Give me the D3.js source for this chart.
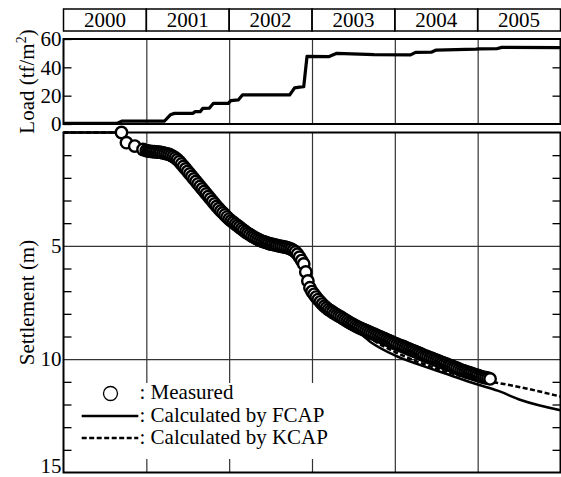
<!DOCTYPE html>
<html><head><meta charset="utf-8">
<script src="https://cdn.jsdelivr.net/npm/d3@7"></script>
<style>body{margin:0;background:#fff}</style>
</head><body><svg id="c" width="561" height="477"></svg>
<script>
const years = [2000, 2001, 2002, 2003, 2004, 2005];
const loadTicks = [0, 20, 40, 60];
const loadSideTicks = [20, 40];
const settleLabelTicks = [5, 10, 15];
const settleMinorTicks = [1, 2, 3, 4, 6, 7, 8, 9, 11, 12, 13, 14];
const settleGrid = [5, 10];
const legendLabels = [": Measured", ": Calculated by FCAP", ": Calculated by KCAP"];

// Load (tf/m2) vs year
const loadData = [
  [2000.00, 0.5], [2000.65, 0.5], [2000.71, 2.1], [2001.22, 2.1], [2001.29, 6.5], [2001.34, 7.5],
  [2001.56, 7.5], [2001.59, 8.7], [2001.65, 8.7], [2001.68, 11.0], [2001.76, 11.1], [2001.81, 14.6],
  [2001.99, 14.6], [2002.02, 16.5], [2002.11, 17.0], [2002.16, 20.5], [2002.73, 20.5], [2002.79, 25.5],
  [2002.85, 26.0], [2002.90, 26.3], [2002.94, 47.8], [2003.20, 47.5], [2003.30, 49.9], [2003.75, 49.0],
  [2004.19, 48.8], [2004.25, 50.6], [2004.44, 50.7], [2004.50, 52.2], [2004.98, 52.8], [2005.02, 53.0],
  [2005.23, 53.1], [2005.29, 54.1], [2006.00, 53.9]
];

// Measured settlement (m)
const measured = [
  [2000.70, 0.00], [2000.76, 0.45], [2000.86, 0.60], [2000.96, 0.75],
  [2001.000, 0.80], [2001.025, 0.82], [2001.050, 0.83], [2001.075, 0.84], [2001.100, 0.85], [2001.125, 0.86],
  [2001.150, 0.87], [2001.175, 0.88], [2001.200, 0.90], [2001.225, 0.92], [2001.250, 0.94], [2001.275, 0.97],
  [2001.300, 1.01], [2001.325, 1.06], [2001.350, 1.12], [2001.375, 1.20], [2001.400, 1.29], [2001.425, 1.39],
  [2001.450, 1.50], [2001.475, 1.61], [2001.500, 1.72], [2001.525, 1.83], [2001.550, 1.94], [2001.575, 2.05],
  [2001.600, 2.16], [2001.625, 2.27], [2001.650, 2.38], [2001.675, 2.49], [2001.700, 2.60], [2001.725, 2.71],
  [2001.750, 2.82], [2001.775, 2.93], [2001.800, 3.04], [2001.825, 3.15], [2001.850, 3.26], [2001.875, 3.36],
  [2001.900, 3.46], [2001.925, 3.55], [2001.950, 3.64], [2001.975, 3.73], [2002.000, 3.82], [2002.025, 3.90],
  [2002.050, 3.97], [2002.075, 4.04], [2002.100, 4.11], [2002.125, 4.18], [2002.150, 4.25], [2002.175, 4.32],
  [2002.200, 4.39], [2002.225, 4.45], [2002.250, 4.51], [2002.275, 4.57], [2002.300, 4.62], [2002.325, 4.67],
  [2002.350, 4.72], [2002.375, 4.76], [2002.400, 4.80], [2002.425, 4.83], [2002.450, 4.86], [2002.475, 4.89],
  [2002.500, 4.92], [2002.525, 4.94], [2002.550, 4.96], [2002.575, 4.98], [2002.600, 5.00], [2002.625, 5.02],
  [2002.650, 5.04], [2002.675, 5.06], [2002.700, 5.08], [2002.725, 5.11], [2002.750, 5.15], [2002.775, 5.20],
  [2002.800, 5.27], [2002.825, 5.37], [2002.850, 5.50], [2002.875, 5.65], [2002.900, 5.80], [2002.925, 6.15],
  [2002.950, 6.55], [2002.975, 6.85], [2003.000, 7.02], [2003.025, 7.14], [2003.050, 7.26], [2003.075, 7.37],
  [2003.100, 7.47], [2003.125, 7.57], [2003.150, 7.66], [2003.175, 7.74], [2003.200, 7.81], [2003.225, 7.87],
  [2003.250, 7.93], [2003.275, 7.99], [2003.300, 8.05], [2003.325, 8.10], [2003.350, 8.15], [2003.375, 8.21],
  [2003.400, 8.27], [2003.425, 8.32], [2003.450, 8.38], [2003.475, 8.43], [2003.500, 8.48], [2003.525, 8.53],
  [2003.550, 8.58], [2003.575, 8.62], [2003.600, 8.66], [2003.625, 8.70], [2003.650, 8.74], [2003.675, 8.78],
  [2003.700, 8.82], [2003.725, 8.86], [2003.750, 8.90], [2003.775, 8.94], [2003.800, 8.98], [2003.825, 9.02],
  [2003.850, 9.06], [2003.875, 9.10], [2003.900, 9.14], [2003.925, 9.18], [2003.950, 9.22], [2003.975, 9.26],
  [2004.000, 9.30], [2004.025, 9.34], [2004.050, 9.38], [2004.075, 9.41], [2004.100, 9.44], [2004.125, 9.48],
  [2004.150, 9.52], [2004.175, 9.56], [2004.200, 9.60], [2004.225, 9.63], [2004.250, 9.67], [2004.275, 9.71],
  [2004.300, 9.75], [2004.325, 9.79], [2004.350, 9.83], [2004.375, 9.87], [2004.400, 9.90], [2004.425, 9.94],
  [2004.450, 9.97], [2004.475, 10.01], [2004.500, 10.04], [2004.525, 10.08], [2004.550, 10.12], [2004.575, 10.15],
  [2004.600, 10.19], [2004.625, 10.22], [2004.650, 10.26], [2004.675, 10.29], [2004.700, 10.33], [2004.725, 10.36],
  [2004.750, 10.40], [2004.775, 10.44], [2004.800, 10.48], [2004.825, 10.51], [2004.850, 10.54], [2004.875, 10.57],
  [2004.900, 10.60], [2004.925, 10.63], [2004.950, 10.66], [2004.975, 10.69], [2005.000, 10.72], [2005.025, 10.75],
  [2005.050, 10.78], [2005.075, 10.80], [2005.100, 10.82], [2005.125, 10.84], [2005.150, 10.87]
];

// Calculated by FCAP (m)
const fcap = [
  [2000.00, 0.0], [2000.65, 0.0], [2000.75, 0.35], [2000.90, 0.65], [2001.05, 0.82], [2001.25, 0.95],
  [2001.40, 1.30], [2001.60, 2.20], [2001.80, 3.10], [2002.00, 3.85], [2002.20, 4.42], [2002.40, 4.82],
  [2002.60, 5.03], [2002.75, 5.20], [2002.85, 5.55], [2002.92, 6.10], [2003.00, 6.95], [2003.15, 7.72],
  [2003.35, 8.28], [2003.55, 8.78], [2003.71, 9.25], [2004.00, 9.83], [2004.30, 10.25], [2004.60, 10.62],
  [2005.00, 11.12], [2005.24, 11.39], [2005.52, 11.80], [2006.00, 12.25]
];

// Calculated by KCAP (m)
const kcap = [
  [2000.00, 0.0], [2000.65, 0.0], [2000.75, 0.35], [2000.90, 0.65], [2001.05, 0.82], [2001.25, 0.95],
  [2001.40, 1.30], [2001.60, 2.20], [2001.80, 3.10], [2002.00, 3.85], [2002.20, 4.42], [2002.40, 4.82],
  [2002.60, 5.03], [2002.75, 5.20], [2002.85, 5.55], [2002.92, 6.10], [2003.00, 6.95], [2003.15, 7.72],
  [2003.35, 8.22], [2003.55, 8.68], [2003.71, 9.10], [2004.00, 9.68], [2004.30, 10.15], [2004.60, 10.52],
  [2005.00, 10.92], [2005.16, 11.00], [2005.52, 11.24], [2006.00, 11.65]
];

const FONT = "Liberation Serif";
const svg = d3.select("#c");
const x = d3.scaleLinear().domain([2000, 2006]).range([63.5, 560.5]);
const yL = d3.scaleLinear().domain([0, 60]).range([124, 39]);
const yS = d3.scaleLinear().domain([0, 15]).range([132.5, 472.5]);
const [x0, x1] = x.range();

// Header year boxes
const hdr = svg.append("g");
hdr.selectAll("rect").data(years).join("rect")
  .attr("x", d => x(d)).attr("y", 9).attr("width", d => x(d + 1) - x(d)).attr("height", 22)
  .attr("fill", "none").attr("stroke", "#000").attr("stroke-width", 1.5);
hdr.selectAll("text").data(years).join("text")
  .attr("x", d => (x(d) + x(d + 1)) / 2).attr("y", 27).attr("text-anchor", "middle")
  .style("font-family", FONT).style("font-size", "21px").text(d => d);

function styleAxis(g) {
  g.select(".domain").remove();
  g.selectAll("line").attr("stroke", "#000").attr("stroke-width", 1.3);
  g.selectAll("text").attr("fill", "#000").style("font-family", FONT).style("font-size", "21px");
}

// ---------- Load panel ----------
const gridYears = years.slice(1);
svg.append("g").attr("transform", `translate(0,${yL(0)})`)
  .call(d3.axisBottom(x).tickValues(gridYears).tickSize(-(yL(0) - yL(60))).tickFormat(""))
  .call(g => { styleAxis(g); g.selectAll("line").attr("stroke", "#333").attr("stroke-width", 1.2); });

svg.append("g").attr("transform", `translate(${x0},0)`)
  .call(d3.axisLeft(yL).tickValues(loadTicks).tickSize(-8).tickPadding(2))
  .call(styleAxis);
svg.append("g").attr("transform", `translate(${x1},0)`)
  .call(d3.axisRight(yL).tickValues(loadSideTicks).tickSize(-8).tickFormat(""))
  .call(styleAxis);

svg.append("path").datum(loadData)
  .attr("d", d3.line().x(d => x(d[0])).y(d => yL(d[1])))
  .attr("fill", "none").attr("stroke", "#000").attr("stroke-width", 3.2).attr("stroke-linejoin", "round");

svg.append("rect").attr("x", x0).attr("y", yL(60)).attr("width", x1 - x0).attr("height", yL(0) - yL(60))
  .attr("fill", "none").attr("stroke", "#000").attr("stroke-width", 2);

// ---------- Settlement panel ----------
svg.append("g").attr("transform", `translate(0,${yS(15)})`)
  .call(d3.axisBottom(x).tickValues(gridYears).tickSize(-(yS(15) - yS(0))).tickFormat(""))
  .call(g => { styleAxis(g); g.selectAll("line").attr("stroke", "#333").attr("stroke-width", 1.2); });
svg.append("g").attr("transform", `translate(${x0},0)`)
  .call(d3.axisLeft(yS).tickValues(settleGrid).tickSize(-(x1 - x0)).tickFormat(""))
  .call(g => { styleAxis(g); g.selectAll("line").attr("stroke", "#333").attr("stroke-width", 1.2); });

svg.append("g").attr("transform", `translate(${x0},0)`)
  .call(d3.axisLeft(yS).tickValues(settleMinorTicks).tickSize(-8).tickFormat(""))
  .call(styleAxis);
svg.append("g").attr("transform", `translate(${x0},0)`)
  .call(d3.axisLeft(yS).tickValues(settleLabelTicks).tickSize(0).tickPadding(2))
  .call(styleAxis)
  .call(g => g.selectAll("text").filter(d => d === 15).attr("dy", "-0.02em"));
svg.append("g").attr("transform", `translate(${x1},0)`)
  .call(d3.axisRight(yS).tickValues(settleMinorTicks).tickSize(-8).tickFormat(""))
  .call(styleAxis);

const sLine = d3.line().x(d => x(d[0])).y(d => yS(d[1])).curve(d3.curveMonotoneX);
svg.append("path").datum(fcap).attr("d", sLine)
  .attr("fill", "none").attr("stroke", "#000").attr("stroke-width", 2.5);
svg.append("path").datum(kcap).attr("d", sLine)
  .attr("fill", "none").attr("stroke", "#000").attr("stroke-width", 2.5).attr("stroke-dasharray", "5,2.5");

svg.append("rect").attr("x", x0).attr("y", yS(0)).attr("width", x1 - x0).attr("height", yS(15) - yS(0))
  .attr("fill", "none").attr("stroke", "#000").attr("stroke-width", 2);

svg.append("g").selectAll("circle").data(measured).join("circle")
  .attr("cx", d => x(d[0])).attr("cy", d => yS(d[1])).attr("r", 5.7)
  .attr("fill", "#fff").attr("stroke", "#000").attr("stroke-width", 2.4);

// ---------- Axis titles ----------
const tL = svg.append("text").attr("transform", `translate(34,${(yL(0) + yL(60)) / 2}) rotate(-90)`)
  .attr("text-anchor", "middle").style("font-family", FONT).style("font-size", "21px");
tL.append("tspan").text("Load (tf/m");
tL.append("tspan").style("font-size", "14px").attr("dy", -8).text("2");
tL.append("tspan").attr("dy", 8).text(")");

svg.append("text").attr("transform", `translate(34,${(yS(0) + yS(15)) / 2}) rotate(-90)`)
  .attr("text-anchor", "middle").style("font-family", FONT).style("font-size", "21px").text("Settlement (m)");

// ---------- Legend ----------
const lg = svg.append("g");
lg.append("rect").attr("x", 76).attr("y", 383).attr("width", 256).attr("height", 76).attr("fill", "#fff");
const rowY = [393.5, 416, 438];
lg.append("circle").attr("cx", 110.5).attr("cy", rowY[0]).attr("r", 7)
  .attr("fill", "#fff").attr("stroke", "#000").attr("stroke-width", 1.3);
lg.append("line").attr("x1", 81.7).attr("x2", 138.3).attr("y1", rowY[1]).attr("y2", rowY[1])
  .attr("stroke", "#000").attr("stroke-width", 2.5);
lg.append("line").attr("x1", 81.7).attr("x2", 138.3).attr("y1", rowY[2]).attr("y2", rowY[2])
  .attr("stroke", "#000").attr("stroke-width", 2.5).attr("stroke-dasharray", "5,2.5");
lg.selectAll("text").data(legendLabels).join("text")
  .attr("x", 139.5).attr("y", (d, i) => rowY[i] + 5.5).style("font-family", FONT).style("font-size", "21px").text(d => d);
</script></body></html>
